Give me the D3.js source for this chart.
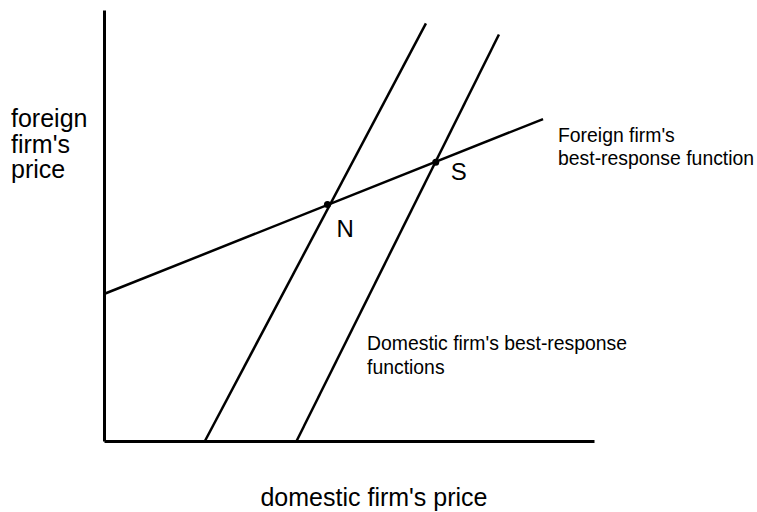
<!DOCTYPE html>
<html>
<head>
<meta charset="utf-8">
<script src="https://cdn.jsdelivr.net/npm/d3@7"></script>
<style>
    body { margin: 0; background: #fff; }
    svg { display: block; font-family: "Liberation Sans", Arial, sans-serif; }
</style>
</head>
<body>
<svg id="chart" width="757" height="512"></svg>
<script>
// domain of both prices (unitless)
var xDomain = [0, 100];
var yDomain = [0, 100];

// foreign firm's best-response line (domestic price, foreign price)
var foreignLine = [[0, 34.1], [89.6, 74.7]];

// domestic firm's best-response lines, before and after the shift
var domesticLines = [
    [[20.6, 0], [65.7, 96.9]],
    [[39.3, 0], [80.6, 94.3]]
];

// equilibrium points
var pointNames = ["N", "S"];
var pointX = [45.6, 67.7];
var pointY = [54.9, 64.7];

var svg = d3.select("#chart");

var x = d3.scaleLinear().domain(xDomain).range([104, 594]);
var y = d3.scaleLinear().domain(yDomain).range([441, 10]);

var line = d3.line()
    .x(function (d) { return x(d[0]); })
    .y(function (d) { return y(d[1]); });

// axes: just the bare lines, no ticks
svg.append("g")
    .attr("transform", "translate(0," + y(0) + ")")
    .call(d3.axisBottom(x).tickValues([]).tickSizeOuter(0));
svg.append("g")
    .attr("transform", "translate(" + x(0) + ",0)")
    .call(d3.axisLeft(y).tickValues([]).tickSizeOuter(0));
svg.selectAll(".domain")
    .attr("stroke", "#000")
    .attr("stroke-width", 3);

// best-response lines
svg.append("path")
    .datum(foreignLine)
    .attr("d", line)
    .attr("fill", "none")
    .attr("stroke", "#000")
    .attr("stroke-width", 2.5);

svg.selectAll(".domestic")
    .data(domesticLines)
    .enter()
    .append("path")
    .attr("class", "domestic")
    .attr("d", line)
    .attr("fill", "none")
    .attr("stroke", "#000")
    .attr("stroke-width", 2.5);

// equilibrium dots
svg.selectAll(".eq")
    .data(pointNames)
    .enter()
    .append("circle")
    .attr("class", "eq")
    .attr("cx", function (d, i) { return x(pointX[i]); })
    .attr("cy", function (d, i) { return y(pointY[i]); })
    .attr("r", 3.5)
    .attr("fill", "#000");

svg.selectAll(".eqlabel")
    .data(pointNames)
    .enter()
    .append("text")
    .attr("class", "eqlabel")
    .attr("x", function (d, i) { return x(pointX[i]) + 9; })
    .attr("y", function (d, i) { return y(pointY[i]) + 33; })
    .attr("font-size", "24px")
    .text(function (d) { return d; });
// S sits a little higher than N relative to its dot
svg.selectAll(".eqlabel").filter(function (d) { return d == "S"; })
    .attr("x", x(pointX[1]) + 15)
    .attr("y", y(pointY[1]) + 18);

// axis titles
var yTitle = ["foreign", "firm's", "price"];
svg.selectAll(".ytitle")
    .data(yTitle)
    .enter()
    .append("text")
    .attr("class", "ytitle")
    .attr("x", 11)
    .attr("y", function (d, i) { return 127 + i * 25.5; })
    .attr("font-size", "25px")
    .text(function (d) { return d; });

svg.append("text")
    .attr("x", 374)
    .attr("y", 506)
    .attr("text-anchor", "middle")
    .attr("font-size", "25px")
    .text("domestic firm's price");

// curve labels, narrow type
function narrowLabel(lines, left, top, step) {
    svg.append("g")
        .selectAll("text")
        .data(lines)
        .enter()
        .append("text")
        .attr("transform", function (d, i) {
            return "translate(" + left + "," + (top + i * step) + ") scale(0.97,1)";
        })
        .attr("font-size", "20px")
        .text(function (d) { return d; });
}
narrowLabel(["Foreign firm's", "best-response function"], 558, 142, 23);
narrowLabel(["Domestic firm's best-response", "functions"], 367, 350, 24);
</script>
</body>
</html>
